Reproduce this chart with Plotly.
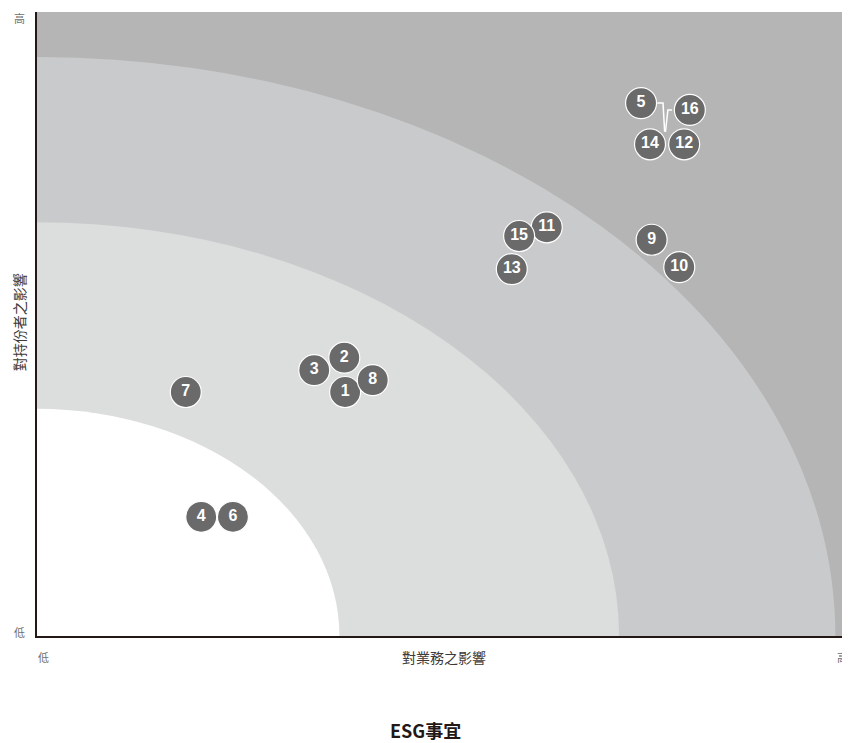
import plotly.graph_objects as go

# ---- data ----
issue_ids = ["1", "2", "3", "4", "5", "6", "7", "8", "9", "10", "11", "12", "13", "14", "15", "16"]
business_impact = [37.9, 37.8, 34.1, 20.2, 74.3, 24.1, 18.3, 41.3, 75.6, 79.0, 62.7, 79.6, 58.4, 75.4, 59.3, 80.3]
stakeholder_impact = [39.1, 44.6, 42.6, 19.1, 85.4, 19.1, 39.1, 41.0, 63.5, 59.1, 65.5, 78.8, 58.8, 78.8, 64.1, 84.3]

# quarter-ellipse priority bands (outer to inner)
band_rx = [98.2, 71.6, 37.2]
band_ry = [92.8, 66.3, 36.4]
band_colors = ["#c9cacb", "#dcdddd", "#ffffff"]
outer_color = "#b5b5b5"

# leader lines for points 5 and 16
leader5_x = [76.3, 77.0, 77.2]
leader5_y = [85.4, 85.4, 80.8]
leader16_x = [78.1, 77.6, 77.3]
leader16_y = [84.3, 84.3, 80.8]

tick_low = "低"
tick_high = "高"
x_title = "對業務之影響"
y_title = "對持份者之影響"
chart_title = "ESG事宜"

CJK = "Noto Sans CJK TC, Liberation Sans, sans-serif"
grey_text = "#6f6f6f"

fig = go.Figure()

for lx, ly in [(leader5_x, leader5_y), (leader16_x, leader16_y)]:
    fig.add_trace(go.Scatter(x=lx, y=ly, mode="lines",
                             line=dict(color="white", width=1.5),
                             hoverinfo="skip", showlegend=False))

fig.add_trace(go.Scatter(
    x=business_impact, y=stakeholder_impact, mode="markers+text",
    text=issue_ids, textposition="middle center",
    textfont=dict(family="Liberation Sans, Arial, sans-serif", size=16, color="white", weight="bold"),
    marker=dict(size=31, color="#6a6a6a", line=dict(color="white", width=1.2)),
    showlegend=False))

shapes = []
for rx, ry, c in zip(band_rx, band_ry, band_colors):
    shapes.append(dict(type="circle", xref="x", yref="y", x0=-rx, x1=rx, y0=-ry, y1=ry,
                       fillcolor=c, line=dict(width=0), layer="below"))

fig.update_layout(
    width=850, height=743,
    margin=dict(l=29, r=8, t=4, b=115),
    paper_bgcolor="white", plot_bgcolor=outer_color,
    shapes=shapes,
    xaxis=dict(range=[0, 100], showgrid=False, zeroline=False, showticklabels=False,
               showline=True, linecolor="#231815", linewidth=2, ticks=""),
    yaxis=dict(range=[0, 100], showgrid=False, zeroline=False, showticklabels=False,
               showline=True, linecolor="#231815", linewidth=2, ticks=""),
    annotations=[
        dict(text=x_title, xref="paper", yref="paper", x=0.5, y=-0.034, yanchor="middle",
             showarrow=False, font=dict(family=CJK, size=14, color="#3e3a39")),
        dict(text=y_title, xref="paper", yref="paper", x=-0.022, xanchor="center", y=0.503,
             yanchor="middle", textangle=-90, showarrow=False,
             font=dict(family=CJK, size=14, color="#3e3a39")),
        dict(text=tick_low, xref="paper", yref="paper", x=0.0, xanchor="left", xshift=-1,
             y=-0.034, yanchor="middle", showarrow=False,
             font=dict(family=CJK, size=11, color=grey_text)),
        dict(text=tick_high, xref="paper", yref="paper", x=1.0, xanchor="left", xshift=-15,
             y=-0.034, yanchor="middle", showarrow=False,
             font=dict(family=CJK, size=11, color=grey_text)),
        dict(text=tick_low, xref="paper", yref="paper", x=-0.022, xanchor="center",
             y=0.006, yanchor="middle", showarrow=False,
             font=dict(family=CJK, size=11, color=grey_text)),
        dict(text=tick_high, xref="paper", yref="paper", x=-0.022, xanchor="center",
             y=0.99, yanchor="middle", showarrow=False,
             font=dict(family=CJK, size=11, color=grey_text)),
        dict(text="<b>" + chart_title + "</b>", xref="paper", yref="paper", x=0.478,
             xanchor="center", y=-0.150, yanchor="middle", showarrow=False,
             font=dict(family=CJK, size=18, color="#231815")),
    ],
)

fig.write_html("out.html")
